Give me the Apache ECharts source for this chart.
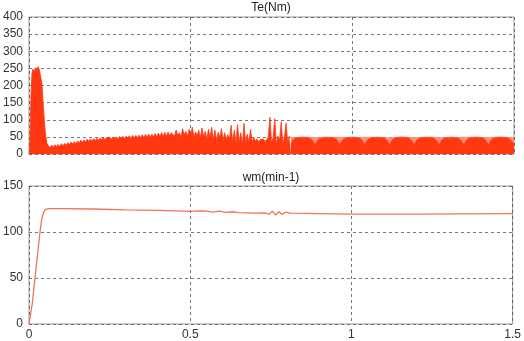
<!DOCTYPE html>
<html><head><meta charset="utf-8">
<script src="https://cdn.jsdelivr.net/npm/echarts@6/dist/echarts.min.js"></script>
<style>html,body{margin:0;padding:0;background:#fff}#c{width:524px;height:341px}</style>
</head><body><div id="c"></div>
<script>
// ---- data (time in s) ----
const xTicks = [0, 0.5, 1, 1.5];
const teTicks = [0, 50, 100, 150, 200, 250, 300, 350, 400];
const wmTicks = [0, 50, 100, 150];

// torque envelope: start-up pulse
const teStartup = [[0,0],[0.002,10],[0.004,90],[0.006,170],[0.009,235],[0.012,248],[0.016,240],[0.02,252],
  [0.024,244],[0.028,255],[0.032,246],[0.036,250],[0.04,205],[0.044,145],[0.048,90],[0.052,50],[0.056,30]];
// torque envelope: acceleration / steady region
const teEarly = [[0.06,24],[0.065,18],[0.07,26],[0.075,20],[0.08,27],[0.085,21],[0.09,28],[0.095,22],[0.10,30],[0.105,24],
  [0.11,31],[0.115,25],[0.12,33],[0.125,27],[0.13,35],[0.135,29],[0.14,36],[0.145,30],[0.15,38],[0.155,32],
  [0.16,40],[0.165,34],[0.17,41],[0.175,35],[0.18,43],[0.185,37],[0.19,44],[0.195,38],[0.20,45],[0.205,39],
  [0.21,46],[0.215,40],[0.22,47],[0.225,41],[0.23,48],[0.235,42],[0.24,48],[0.245,43],[0.25,49],[0.255,43],
  [0.26,50],[0.265,44],[0.27,50],[0.275,44],[0.28,51],[0.285,45],[0.29,52],[0.295,45],[0.30,52],[0.305,46],
  [0.31,53],[0.315,46],[0.32,54],[0.325,47],[0.33,54],[0.335,47],[0.34,55],[0.345,48],[0.35,56],[0.355,48],
  [0.36,57],[0.365,49],[0.37,58],[0.375,49],[0.38,58],[0.385,50],[0.39,60],[0.395,50],[0.40,61],[0.405,51],
  [0.41,62],[0.415,52],[0.42,63],[0.425,52],[0.43,64],[0.435,53],[0.44,62]];
// torque envelope: spiky region
const teSpiky = [[0.445,64],[0.45,52],[0.455,70],[0.46,55],[0.465,62],[0.47,50],[0.475,74],[0.48,56],[0.485,66],[0.49,52],
  [0.495,72],[0.5,55],[0.505,78],[0.51,50],[0.515,64],[0.52,54],[0.525,70],[0.53,46],[0.535,76],[0.54,50],
  [0.545,66],[0.55,44],[0.555,72],[0.56,48],[0.565,78],[0.57,42],[0.575,70],[0.58,38],[0.585,64],[0.59,48],
  [0.595,74],[0.6,40],[0.605,62],[0.61,44],[0.615,56],[0.62,40],[0.625,84],[0.63,35],[0.635,70],[0.64,30],
  [0.645,86],[0.65,32],[0.655,62],[0.66,28],[0.665,90],[0.67,30],[0.675,58],[0.68,34],[0.685,72],[0.69,36],
  [0.695,48],[0.7,38],[0.705,44],[0.71,36],[0.715,42],[0.72,38],[0.725,44],[0.73,36],[0.735,42],[0.74,50],
  [0.745,107],[0.75,32],[0.755,48],[0.76,103],[0.765,30],[0.77,52],[0.775,40],[0.78,94],[0.785,28],[0.79,50],
  [0.795,90],[0.8,35],[0.805,52],[0.81,48]];
// torque: late ripple band (light) and dense arches (dark)
const teBand = [[0.81,48],[0.86,49],[0.9,47],[0.95,49],[1.0,48],[1.05,49],[1.1,47],[1.15,49],[1.2,48],[1.25,49],
  [1.3,47],[1.35,49],[1.4,48],[1.45,49],[1.5,48]];
const teArches = [[0.81,28],[0.816,40],[0.826,47],[0.846,49],[0.866,47],[0.876,40],[0.885,28],
  [0.893,40],[0.903,47],[0.923,49],[0.943,47],[0.953,40],[0.961,28],
  [0.969,40],[0.98,47],[1.0,49],[1.02,47],[1.03,40],[1.038,28],
  [1.046,40],[1.057,47],[1.077,49],[1.097,47],[1.107,40],[1.115,28],
  [1.123,40],[1.133,47],[1.153,49],[1.173,47],[1.183,40],[1.191,28],
  [1.199,40],[1.21,47],[1.23,49],[1.25,47],[1.26,40],[1.268,28],
  [1.276,40],[1.286,47],[1.306,49],[1.326,47],[1.336,40],[1.345,28],
  [1.353,40],[1.363,47],[1.383,49],[1.403,47],[1.413,40],[1.421,28],
  [1.429,40],[1.44,47],[1.46,49],[1.48,47],[1.49,40],[1.5,30]];
// speed
const wmData = [[0,0],[0.003,2],[0.01,22],[0.02,55],[0.03,87],[0.035,103],[0.04,115],[0.045,121],[0.05,124],
  [0.06,125.5],[0.1,125.5],[0.2,125],[0.3,124],[0.4,123.5],[0.5,122.5],[0.53,123],[0.55,122.6],[0.57,121.6],
  [0.59,122.6],[0.61,121.4],[0.63,122],[0.65,121],[0.7,120.5],[0.73,120.8],[0.745,119.5],[0.755,122.5],
  [0.765,118.5],[0.775,122],[0.785,119],[0.795,121.5],[0.81,120.5],[0.9,120],[1.0,119.5],[1.2,119.5],[1.5,120]];

const teMain = teStartup.concat(teEarly, teSpiky);

const dark = '#ff3812', light = '#f7907a', lineC = '#f07458';
const gridLine = {show: true, lineStyle: {color: '#555', type: [3, 3], width: 0.8}};
const fontFam = 'Liberation Sans, Arial, sans-serif';
const lbl = {color: '#333', fontSize: 12, fontFamily: fontFam};

const chart = echarts.init(document.getElementById('c'), null, {renderer: 'canvas'});
chart.setOption({
  animation: false,
  backgroundColor: '#fff',
  grid: [
    {left: 28, right: 10, top: 17, height: 137, show: true, borderColor: '#999', borderWidth: 1},
    {left: 28, right: 10, top: 186, height: 138, show: true, borderColor: '#999', borderWidth: 1}
  ],
  graphic: [
    {type: 'text', x: 271, y: 8, style: {text: 'Te(Nm)', textAlign: 'center', textVerticalAlign: 'middle', fill: '#222', font: '12px ' + fontFam}},
    {type: 'text', x: 271, y: 178, style: {text: 'wm(min-1)', textAlign: 'center', textVerticalAlign: 'middle', fill: '#222', font: '12px ' + fontFam}}
  ],
  xAxis: [
    {type: 'value', gridIndex: 0, min: xTicks[0], max: xTicks[xTicks.length - 1], interval: 0.5,
     axisLine: {show: false}, axisTick: {show: false}, axisLabel: {show: false}, splitLine: gridLine},
    {type: 'value', gridIndex: 1, min: xTicks[0], max: xTicks[xTicks.length - 1], interval: 0.5,
     axisLine: {show: false}, axisTick: {show: false}, splitLine: gridLine,
     axisLabel: Object.assign({margin: 5, formatter: v => String(v)}, lbl)}
  ],
  yAxis: [
    {type: 'value', gridIndex: 0, min: teTicks[0], max: teTicks[teTicks.length - 1], interval: 50,
     axisLine: {show: false}, axisTick: {show: false}, splitLine: gridLine,
     axisLabel: Object.assign({margin: 6}, lbl)},
    {type: 'value', gridIndex: 1, min: wmTicks[0], max: wmTicks[wmTicks.length - 1], interval: 50,
     axisLine: {show: false}, axisTick: {show: false}, splitLine: gridLine,
     axisLabel: Object.assign({margin: 6}, lbl)}
  ],
  series: [
    {type: 'line', xAxisIndex: 0, yAxisIndex: 0, data: teMain, symbol: 'none',
     lineStyle: {color: dark, width: 0.8}, areaStyle: {color: dark, opacity: 1}},
    {type: 'line', xAxisIndex: 0, yAxisIndex: 0, data: teBand, symbol: 'none',
     lineStyle: {color: light, width: 0.8}, areaStyle: {color: light, opacity: 1}},
    {type: 'line', xAxisIndex: 0, yAxisIndex: 0, data: teArches, symbol: 'none', smooth: 0.3,
     lineStyle: {color: dark, width: 0.8}, areaStyle: {color: dark, opacity: 1}},
    {type: 'line', xAxisIndex: 1, yAxisIndex: 1, data: wmData, symbol: 'none',
     lineStyle: {color: lineC, width: 1.3}}
  ]
});
</script></body></html>
